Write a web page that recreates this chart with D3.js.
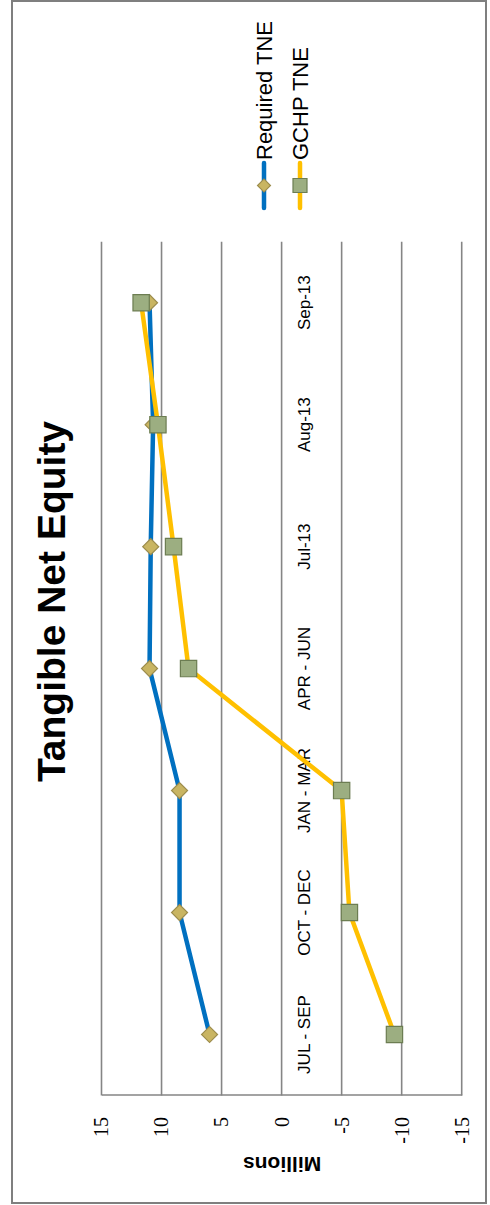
<!DOCTYPE html>
<html>
<head>
<meta charset="utf-8">
<script src="https://cdn.jsdelivr.net/npm/d3@7"></script>
<style>
  html, body { margin: 0; padding: 0; background: #fff; }
  svg { display: block; }
</style>
</head>
<body>
<svg id="chart" width="490" height="1205"></svg>
<script>
// Quarterly / monthly tangible net equity, in millions
const categories = ["JUL - SEP", "OCT - DEC", "JAN - MAR", "APR - JUN", "Jul-13", "Aug-13", "Sep-13"];
const requiredTNE = [6.0, 8.5, 8.5, 11.0, 10.9, 10.7, 11.0];
const gchpTNE = [-9.4, -5.65, -5.0, 7.75, 9.0, 10.3, 11.7];
const valueTicks = [15, 10, 5, 0, -5, -10, -15];
const seriesNames = ["Required TNE", "GCHP TNE"];

const PAGE_H = 1205;
const svg = d3.select("#chart");

// The chart is laid out landscape and turned a quarter turn counter-clockwise.
const g = svg.append("g").attr("transform", `translate(0,${PAGE_H}) rotate(-90)`);

// Chart frame
g.append("rect")
  .attr("x", 2).attr("y", 12)
  .attr("width", 1202).attr("height", 474)
  .attr("fill", "#fff")
  .attr("stroke", "#7f7f7f").attr("stroke-width", 2);

const plot = { left: 109.5, right: 963.3, top: 101.5, bottom: 461.7 };

const x = d3.scaleBand().domain(categories).range([plot.left, plot.right]).padding(0);
const y = d3.scaleLinear().domain([-15, 15]).range([plot.bottom, plot.top]);
const cx = c => x(c) + x.bandwidth() / 2;

// Horizontal gridlines
g.append("g").selectAll("line").data(valueTicks).join("line")
  .attr("x1", plot.left).attr("x2", plot.right)
  .attr("y1", d => y(d)).attr("y2", d => y(d))
  .attr("stroke", "#858585").attr("stroke-width", 1.6);

// Value axis (plain hyphen for negatives)
const yAxis = g.append("g")
  .attr("transform", `translate(${plot.left},0)`)
  .call(d3.axisLeft(y).tickValues(valueTicks).tickFormat(d => String(d))
    .tickSize(0).tickSizeOuter(0).tickPadding(21.5));
yAxis.select(".domain").attr("stroke", "#858585").attr("stroke-width", 1.6);
yAxis.selectAll("text")
  .attr("font-family", "'Liberation Serif', 'Times New Roman', serif")
  .attr("font-size", 20).attr("fill", "#000");

// Axis title
g.append("text")
  .attr("transform", `translate(48,${(plot.top + plot.bottom) / 2 + 0.5}) rotate(-90)`)
  .attr("text-anchor", "middle")
  .attr("font-family", "'Liberation Sans', Arial, sans-serif")
  .attr("font-weight", "bold").attr("font-size", 21)
  .text("Millions");

// Category labels next to the zero line
g.append("g").selectAll("text").data(categories).join("text")
  .attr("x", d => cx(d)).attr("y", 310)
  .attr("text-anchor", "middle")
  .attr("font-family", "'Liberation Sans', Arial, sans-serif")
  .attr("font-size", 17).attr("fill", "#000")
  .text(d => d);

// Title
g.append("text")
  .attr("x", 603.5).attr("y", 65)
  .attr("text-anchor", "middle")
  .attr("font-family", "'Liberation Sans', Arial, sans-serif")
  .attr("font-weight", "bold").attr("font-size", 39)
  .text("Tangible Net Equity");

const line = d3.line().x(d => cx(d.c)).y(d => y(d.v));
const diamond = d3.symbol().type(d3.symbolSquare).size(128);
const square = d3.symbol().type(d3.symbolSquare).size(266);

const series = [
  { name: seriesNames[0], values: requiredTNE, color: "#0070c0", fill: "#c9b562", stroke: "#9c8c4c", shape: "diamond" },
  { name: seriesNames[1], values: gchpTNE, color: "#ffc000", fill: "#9cae81", stroke: "#6c7d52", shape: "square" }
];

series.forEach(s => {
  const pts = categories.map((c, i) => ({ c, v: s.values[i] }));
  g.append("path").datum(pts)
    .attr("d", line)
    .attr("fill", "none")
    .attr("stroke", s.color).attr("stroke-width", 4.5)
    .attr("stroke-linejoin", "round");
  g.append("g").selectAll("path").data(pts).join("path")
    .attr("d", s.shape === "diamond" ? diamond : square)
    .attr("transform", d => `translate(${cx(d.c)},${y(d.v)})` + (s.shape === "diamond" ? " rotate(45)" : ""))
    .attr("fill", s.fill).attr("stroke", s.stroke).attr("stroke-width", 1.2);
});

// Legend
const legend = g.append("g");
const legendRows = [{ s: series[0], yPos: 264 }, { s: series[1], yPos: 300 }];
legendRows.forEach(({ s, yPos }) => {
  legend.append("line")
    .attr("x1", 997).attr("x2", 1042)
    .attr("y1", yPos).attr("y2", yPos)
    .attr("stroke", s.color).attr("stroke-width", 4.5)
    .attr("stroke-linecap", "round");
  legend.append("path")
    .attr("d", s.shape === "diamond"
      ? d3.symbol().type(d3.symbolSquare).size(84)()
      : d3.symbol().type(d3.symbolSquare).size(196)())
    .attr("transform", `translate(1019.5,${yPos})` + (s.shape === "diamond" ? " rotate(45)" : ""))
    .attr("fill", s.fill).attr("stroke", s.stroke).attr("stroke-width", 1.2);
  legend.append("text")
    .attr("x", 1045).attr("y", yPos + 8)
    .attr("font-family", "'Liberation Sans', Arial, sans-serif")
    .attr("font-size", 22).attr("fill", "#000")
    .text(s.name);
});
</script>
</body>
</html>
